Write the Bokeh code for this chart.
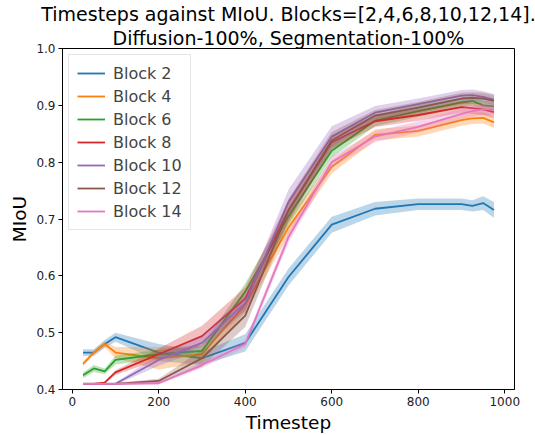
from bokeh.plotting import figure
from bokeh.models import Range1d, FixedTicker, PrintfTickFormatter, Legend, LegendItem, Title
from bokeh.embed import file_html
from bokeh.resources import INLINE

timesteps = [25, 50, 75, 100, 200, 300, 400, 500, 600, 700, 800, 900, 925, 950, 975]
labels = ["Block 2", "Block 4", "Block 6", "Block 8", "Block 10", "Block 12", "Block 14"]
colors = ["#1f77b4", "#ff7f0e", "#2ca02c", "#d62728", "#9467bd", "#8c564b", "#e377c2"]

block2_mean = [0.465, 0.465, 0.48, 0.492, 0.465, 0.455, 0.482, 0.598, 0.69, 0.718, 0.726, 0.726, 0.723, 0.728, 0.716]
block2_std = [0.006, 0.006, 0.007, 0.008, 0.015, 0.012, 0.015, 0.015, 0.014, 0.012, 0.01, 0.01, 0.01, 0.012, 0.014]
block4_mean = [0.445, 0.465, 0.48, 0.465, 0.455, 0.462, 0.55, 0.685, 0.792, 0.848, 0.855, 0.874, 0.877, 0.878, 0.87]
block4_std = [0.004, 0.004, 0.005, 0.01, 0.02, 0.015, 0.015, 0.015, 0.012, 0.01, 0.01, 0.01, 0.01, 0.01, 0.01]
block6_mean = [0.425, 0.437, 0.432, 0.452, 0.462, 0.468, 0.572, 0.705, 0.82, 0.873, 0.89, 0.905, 0.908, 0.9, 0.898]
block6_std = [0.005, 0.006, 0.005, 0.008, 0.008, 0.01, 0.015, 0.015, 0.012, 0.01, 0.01, 0.008, 0.008, 0.008, 0.008]
block8_mean = [0.41, 0.41, 0.412, 0.43, 0.462, 0.494, 0.56, 0.715, 0.835, 0.872, 0.883, 0.897, 0.895, 0.893, 0.888]
block8_std = [0.002, 0.002, 0.002, 0.004, 0.01, 0.018, 0.02, 0.018, 0.012, 0.01, 0.01, 0.01, 0.01, 0.01, 0.01]
block10_mean = [0.41, 0.41, 0.41, 0.41, 0.452, 0.482, 0.552, 0.73, 0.845, 0.887, 0.902, 0.917, 0.918, 0.915, 0.91]
block10_std = [0.002, 0.002, 0.002, 0.002, 0.01, 0.012, 0.015, 0.022, 0.018, 0.012, 0.01, 0.01, 0.01, 0.01, 0.01]
block12_mean = [0.41, 0.41, 0.41, 0.41, 0.415, 0.455, 0.53, 0.715, 0.838, 0.882, 0.896, 0.912, 0.913, 0.912, 0.908]
block12_std = [0.002, 0.002, 0.002, 0.002, 0.004, 0.015, 0.02, 0.02, 0.015, 0.01, 0.01, 0.01, 0.01, 0.01, 0.01]
block14_mean = [0.41, 0.41, 0.41, 0.41, 0.411, 0.443, 0.48, 0.668, 0.8, 0.845, 0.862, 0.885, 0.89, 0.893, 0.893]
block14_std = [0.002, 0.002, 0.002, 0.002, 0.002, 0.005, 0.006, 0.01, 0.01, 0.01, 0.01, 0.01, 0.01, 0.01, 0.01]

means = [block2_mean, block4_mean, block6_mean, block8_mean, block10_mean, block12_mean, block14_mean]
stds = [block2_std, block4_std, block6_std, block8_std, block10_std, block12_std, block14_std]

x_ticks = [0, 200, 400, 600, 800, 1000]
y_ticks = [0.4, 0.5, 0.6, 0.7, 0.8, 0.9, 1.0]

title_lines = ["Timesteps against MIoU. Blocks=[2,4,6,8,10,12,14].",
               "Diffusion-100%, Segmentation-100%"]

FONT = "DejaVu Sans"

p = figure(width=535, height=435, output_backend="svg", toolbar_location=None,
           title=None,
           x_range=Range1d(-22.5, 1022.5), y_range=Range1d(0.4, 1.0),
           min_border_left=62, min_border_right=21, min_border_top=4, min_border_bottom=44)

# second line first (closest to the plot), then first line above it
t2 = Title(text=title_lines[1], align="center", text_font=FONT, text_font_size="19px",
           text_font_style="normal", text_color="#000000", standoff=0, offset=0,
           text_line_height=0.9)
t1 = Title(text=title_lines[0], align="center", text_font=FONT, text_font_size="19px",
           text_font_style="normal", text_color="#000000", standoff=0, offset=0,
           text_line_height=1.15, vertical_align="bottom")
p.add_layout(t2, "above")
p.add_layout(t1, "above")

p.xgrid.visible = False
p.ygrid.visible = False
p.outline_line_color = "#000000"
p.outline_line_width = 1

for ax in (p.xaxis[0], p.yaxis[0]):
    ax.axis_label_text_font = FONT
    ax.axis_label_text_font_size = "18.5px"
    ax.axis_label_text_font_style = "normal"
    ax.axis_label_text_color = "#000000"
    ax.major_label_text_font = FONT
    ax.major_label_text_font_size = "12px"
    ax.major_label_text_color = "#222222"
    ax.minor_tick_line_color = None
    ax.major_tick_out = 4
    ax.major_tick_in = 0
    ax.axis_line_color = "#000000"
    ax.major_tick_line_color = "#000000"
    ax.axis_label_standoff = 3
    ax.major_label_standoff = 3

p.xaxis.axis_label = "Timestep"
p.yaxis.axis_label = "MIoU"
p.xaxis.ticker = FixedTicker(ticks=x_ticks)
p.yaxis.ticker = FixedTicker(ticks=y_ticks)
p.yaxis.formatter = PrintfTickFormatter(format="%.1f")

items = []
for lab, col, m, s in zip(labels, colors, means, stds):
    lo = [a - b for a, b in zip(m, s)]
    hi = [a + b for a, b in zip(m, s)]
    p.varea(x=timesteps, y1=lo, y2=hi, fill_color=col, fill_alpha=0.3)
    r = p.line(x=timesteps, y=m, line_color=col, line_width=1.8)
    items.append(LegendItem(label=lab, renderers=[r]))

legend = Legend(items=items, location="top_left")
legend.label_text_font = FONT
legend.label_text_font_size = "16px"
legend.glyph_width = 28
legend.glyph_height = 20
legend.label_height = 20
legend.label_standoff = 8
legend.spacing = 3
legend.padding = 8
legend.margin = 6
legend.border_line_color = "#cccccc"
legend.background_fill_alpha = 0.8
p.add_layout(legend)

open("out.html", "w").write(file_html(p, INLINE))
